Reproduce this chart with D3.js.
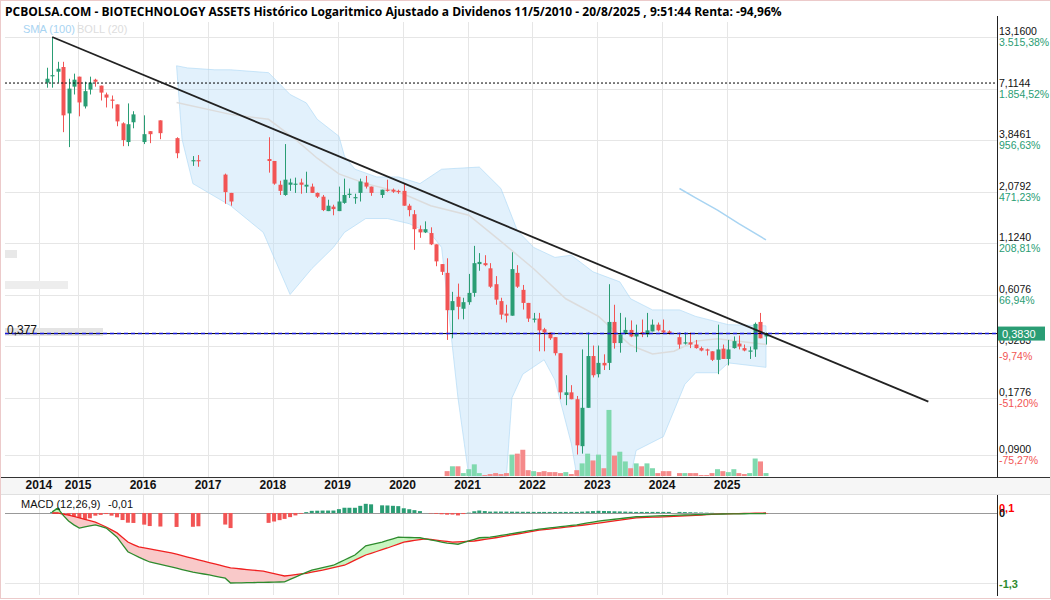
<!DOCTYPE html>
<html>
<head>
<meta charset="utf-8">
<script src="https://cdn.jsdelivr.net/npm/d3@7"></script>
<style>
body{margin:0;background:#fff;}
text{font-family:"Liberation Sans",Arial,sans-serif;}
</style>
</head>
<body>
<svg width="1051" height="600"></svg>
<script>
'use strict';

// monthly candles from Jul 2014, [open, high, low, close], null = no candle
var firstMonth = '2014-07';
var ohlc = [
 [7.64,9.12,7.19,8.0],[8.25,13.16,7.19,8.35],[8.70,9.79,7.64,9.01],[9.2,9.79,4.23,5.17],
 [5.29,8.0,3.54,7.11],[7.28,8.5,6.63,7.91],
 [8.2,8.2,5.11,6.03],[5.75,7.72,5.61,6.9],[7.03,8.2,6.63,7.64],[7.91,8.0,7.28,7.72],
 [7.37,7.37,6.17,6.78],[6.63,6.78,5.68,6.39],[6.24,6.55,5.61,6.17],[5.89,5.89,4.54,4.81],
 [4.70,4.76,3.58,3.85],[3.76,5.96,3.58,4.65],[4.76,5.43,4.43,5.23],null,
 [3.76,5.17,3.67,4.13],[4.28,4.28,3.71,4.13],null,[4.87,4.87,3.89,4.18],null,null,
 [3.94,3.98,3.10,3.29],null,null,[3.0,3.18,2.83,3.03],[3.03,3.22,2.80,3.0],null,
 null,null,null,[2.55,2.58,1.80,2.07],[2.05,2.05,1.76,1.85],null,
 null,null,null,null,null,[3.07,3.98,2.61,3.0],
 [3.0,3.0,2.26,2.29],[2.26,2.37,2.0,2.1],[2.0,3.67,1.98,2.4],[2.26,2.43,2.1,2.32],
 [2.26,2.46,2.05,2.29],[2.32,2.43,2.03,2.26],[2.21,2.64,2.05,2.26],[2.21,2.29,2.05,2.05],
 [2.05,2.06,1.93,1.96],[1.96,2.0,1.65,1.67],[1.65,1.89,1.65,1.76],[1.74,1.78,1.57,1.69],
 [1.65,2.21,1.65,1.85],[1.82,2.43,1.80,2.0],[2.0,2.16,1.93,2.03],[1.93,2.03,1.80,1.95],
 [2.05,2.43,1.85,2.35],[2.32,2.51,2.16,2.21],[2.21,2.21,1.98,2.05],null,
 [2.0,2.13,1.93,2.13],[2.13,2.40,2.08,2.1],[2.13,2.16,2.05,2.08],[2.1,2.13,2.03,2.08],
 [2.1,2.29,1.76,1.76],[1.76,1.80,1.55,1.67],[1.59,1.67,1.04,1.33],[1.33,1.39,1.20,1.28],
 [1.28,1.46,1.27,1.33],[1.27,1.36,1.10,1.11],[1.11,1.11,0.855,0.906],[0.877,0.877,0.77,0.80],
 [0.79,0.94,0.355,0.506],[0.506,0.63,0.362,0.564],[0.594,0.695,0.454,0.527],[0.515,0.587,0.454,0.557],
 [0.557,0.78,0.54,0.622],[0.622,1.09,0.594,0.887],[0.877,1.0,0.81,0.9],[0.887,0.975,0.855,0.866],
 [0.834,0.887,0.66,0.67],[0.69,0.76,0.54,0.574],[0.564,0.587,0.454,0.48],[0.486,0.54,0.437,0.474],
 [0.474,1.01,0.474,0.826],[0.79,0.866,0.66,0.67],[0.645,0.684,0.51,0.552],[0.552,0.552,0.44,0.458],
 [0.452,0.49,0.437,0.458],[0.458,0.49,0.31,0.398],[0.403,0.41,0.31,0.388],[0.388,0.388,0.355,0.362],
 [0.367,0.367,0.295,0.303],[0.303,0.303,0.175,0.19],[0.184,0.233,0.163,0.19],[0.19,0.207,0.175,0.175],
 [0.175,0.182,0.0905,0.101],[0.10,0.317,0.0915,0.158],[0.158,0.388,0.158,0.293],[0.293,0.332,0.227,0.233],
 [0.236,0.332,0.227,0.27],[0.27,0.299,0.248,0.262],[0.27,0.69,0.248,0.44],[0.44,0.54,0.32,0.342],
 [0.342,0.49,0.305,0.379],[0.386,0.464,0.379,0.40],[0.40,0.448,0.367,0.37],[0.37,0.426,0.307,0.383],
 [0.39,0.453,0.367,0.379],[0.379,0.49,0.367,0.398],[0.393,0.453,0.393,0.426],[0.426,0.437,0.393,0.398],
 [0.398,0.453,0.383,0.388],[0.393,0.398,0.379,0.383],null,
 [0.367,0.388,0.32,0.336],[0.34,0.388,0.336,0.345],[0.345,0.388,0.322,0.336],[0.336,0.355,0.32,0.322],
 [0.322,0.328,0.31,0.313],[0.317,0.32,0.295,0.313],[0.31,0.31,0.276,0.28],[0.28,0.426,0.236,0.317],
 [0.32,0.336,0.283,0.283],[0.283,0.355,0.262,0.317],[0.322,0.37,0.32,0.35],[0.34,0.374,0.317,0.328],
 [0.322,0.336,0.31,0.313],[0.31,0.328,0.283,0.313],[0.317,0.437,0.29,0.43],[0.44,0.49,0.362,0.362],
 [0.37,0.388,0.336,0.383]
];

// volume, starting Sep 2020 (null = no candle)
var volStart = '2020-09';
var volume = [5,10,10,3,7,12,3,1,2,3,2,3,22,23,27,6,5,4,5,4,4,3,4,2,6,13,23,16,22,8,68,21,25,15,8,13,10,13,8,3,5,5,
  null,3,3,3,3,1,1,3,7,5,4,7,3,2,3,18,15,3];

// bollinger (20) and sma (100)
var bollUpper = [['2016-07',9.34],['2016-09',9.1],['2017-02',8.9],['2017-05',8.9],['2017-12',8.6],['2018-04',6.63],
  ['2018-07',6.0],['2018-09',4.93],['2019-01',4.03],['2019-02',3.18],['2019-04',2.72],['2019-08',2.48],['2019-12',2.48],
  ['2020-04',2.29],['2020-08',2.72],['2021-03',2.79],['2021-07',2.16],['2021-10',1.31],['2022-01',1.07],['2022-05',0.95],
  ['2022-08',0.975],['2022-12',0.80],['2023-05',0.71],['2023-07',0.58],['2023-11',0.508],['2024-04',0.508],
  ['2024-07',0.47],['2025-01',0.426],['2025-08',0.42]];
var bollLower = [['2016-07',9.34],['2016-08',3.88],['2016-10',2.29],['2017-05',1.76],['2017-11',1.28],['2018-04',0.61],
  ['2018-08',0.83],['2018-12',1.07],['2019-02',1.28],['2019-06',1.51],['2019-10',1.51],['2020-02',1.42],['2020-06',1.26],
  ['2020-08',1.07],['2020-11',0.178],['2021-01',0.07],['2021-08',0.07],['2021-09',0.178],['2021-11',0.236],
  ['2022-03',0.28],['2022-05',0.22],['2022-08',0.103],['2022-09',0.07],['2023-07',0.07],['2023-08',0.095],
  ['2024-01',0.112],['2024-05',0.209],['2024-07',0.24],['2024-11',0.24],['2025-01',0.27],['2025-08',0.256]];
var bollMid = [['2016-07',6.03],['2017-05',5.23],['2017-12',4.93],['2018-05',3.88],['2018-09',3.10],['2019-01',2.57],
  ['2019-06',2.29],['2019-12',2.08],['2020-06',1.76],['2021-01',1.57],['2021-07',1.15],['2022-01',0.83],['2022-07',0.58],
  ['2023-01',0.47],['2023-07',0.333],['2023-11',0.30],['2024-03',0.31],['2024-07',0.35],['2024-11',0.36],['2025-08',0.336]];
var sma100 = [['2024-04',2.16],['2024-07',1.93],['2024-11',1.67],['2025-03',1.42],['2025-08',1.17]];

// trend line and levels
var trend = [['2014-08',13.16],['2028-02',0.17]];
var dottedLevel = 7.6;
var lastPrice = 0.383;

// macd (12,26,9)
var macdLine = [['2014-08',0.02],['2014-09',0.09],['2014-10',-0.04],['2014-11',-0.15],['2014-12',-0.22],['2015-01',-0.28],
  ['2015-04',-0.22],['2015-06',-0.28],['2015-08',-0.45],['2015-10',-0.72],['2015-12',-0.82],['2016-02',-0.91],
  ['2016-06',-1.0],['2016-10',-1.10],['2017-01',-1.15],['2017-04',-1.21],['2017-05',-1.30],['2018-03',-1.28],
  ['2018-05',-1.19],['2018-08',-1.06],['2018-12',-0.97],['2019-04',-0.78],['2019-06',-0.61],['2019-09',-0.54],
  ['2019-12',-0.45],['2020-04',-0.46],['2020-09',-0.56],['2020-11',-0.58],['2021-03',-0.46],['2021-05',-0.45],
  ['2022-02',-0.30],['2022-09',-0.22],['2023-01',-0.15],['2023-08',-0.07],['2024-04',-0.04],['2024-11',-0.02],['2025-08',-0.01]];
var signalLine = [['2014-08',0.0],['2014-09',0.0],['2014-11',-0.04],['2015-01',-0.09],['2015-04',-0.17],['2015-06',-0.26],
  ['2015-08',-0.37],['2015-10',-0.54],['2015-12',-0.63],['2016-06',-0.74],['2016-11',-0.87],['2017-03',-0.97],
  ['2017-05',-1.02],['2017-11',-1.08],['2018-03',-1.17],['2018-07',-1.12],['2018-10',-1.06],['2019-02',-0.97],
  ['2019-06',-0.78],['2019-10',-0.65],['2020-01',-0.54],['2020-05',-0.48],['2020-10',-0.54],['2021-02',-0.52],
  ['2021-06',-0.46],['2022-02',-0.32],['2022-09',-0.24],['2023-01',-0.19],['2023-08',-0.09],['2024-04',-0.06],
  ['2024-11',-0.02],['2025-08',0.0]];

// axis labels
var priceTicks = [13.16,7.1144,3.8461,2.0792,1.124,0.6076,0.3283,0.1776,0.09];
var priceLabels = ['13,1600','7,1144','3,8461','2,0792','1,1240','0,6076','0,3283','0,1776','0,0900'];
var pctLabels = ['3.515,38%','1.854,52%','956,63%','471,23%','208,81%','66,94%','-9,74%','-51,20%','-75,27%'];
var yearTicks = ['2014-06-01','2015-01-08','2016-01-08','2017-01-08','2018-01-08','2019-01-08','2020-01-08',
  '2021-01-08','2022-01-08','2023-01-08','2024-01-08','2025-01-08'];
var yearLabels = ['2014','2015','2016','2017','2018','2019','2020','2021','2022','2023','2024','2025'];

var GREEN = '#2a9d74', RED = '#f25454';
var parse = d3.timeParse('%Y-%m');
function mid(s){ var d = parse(s); d.setDate(15); return d; }
function addMonths(s, n){ var d = parse(s); d.setMonth(d.getMonth()+n); d.setDate(15); return d; }

var candles = [];
ohlc.forEach(function(r, i){
  if(r) candles.push({date:addMonths(firstMonth,i), o:r[0], h:r[1], l:r[2], c:r[3]});
});
var vols = [];
volume.forEach(function(v, i){
  if(v === null) return;
  var d = addMonths(volStart, i);
  var cd = candles.find(function(c){ return +c.date === +d; });
  vols.push({date:d, v:v, up: cd ? cd.c >= cd.o : true});
});

var svg = d3.select('svg');
var L = 5, R = 997, TOP = 22, BOT = 477;

var x = d3.scaleTime().domain([mid('2014-07'), mid('2025-08')]).range([46.7, 766]);
var y = d3.scaleLog().domain([13.16, 0.09]).range([37, 455]);
var yv = d3.scaleLinear().domain([0, 70]).range([476, 408]);
var ym = d3.scaleLinear().domain([-1.3, 0.1]).range([583, 507.6]);

// frame + title
svg.append('rect').attr('x',0.5).attr('y',0.5).attr('width',1050).attr('height',598)
  .attr('fill','none').attr('stroke','#eccaca');
svg.append('text').attr('x',5).attr('y',16).attr('font-size',12).attr('font-weight','bold')
  .style('font-family','"Open Sans",sans-serif')
  .text('PCBOLSA.COM - BIOTECHNOLOGY ASSETS Histórico Logaritmico Ajustado a Dividenos 11/5/2010 - 20/8/2025 , 9:51:44 Renta: -94,96%');

var defs = svg.append('defs');
defs.append('clipPath').attr('id','main').append('rect').attr('x',L).attr('y',TOP).attr('width',R-L).attr('height',BOT-TOP);
defs.append('clipPath').attr('id','mpanel').append('rect').attr('x',L).attr('y',495).attr('width',R-L).attr('height',100);

// grid
var g = svg.append('g');
g.selectAll('.hg').data(priceTicks).enter().append('line')
  .attr('x1',L).attr('x2',R).attr('y1',function(d){return Math.round(y(d))+0.5;}).attr('y2',function(d){return Math.round(y(d))+0.5;})
  .attr('stroke','#e6e6e6');
g.selectAll('.vg').data(yearTicks).enter().append('line')
  .attr('x1',function(d){return Math.round(x(new Date(d)))+0.5;}).attr('x2',function(d){return Math.round(x(new Date(d)))+0.5;})
  .attr('y1',TOP).attr('y2',BOT).attr('stroke','#e6e6e6');
g.selectAll('.vg2').data(yearTicks).enter().append('line')
  .attr('x1',function(d){return Math.round(x(new Date(d)))+0.5;}).attr('x2',function(d){return Math.round(x(new Date(d)))+0.5;})
  .attr('y1',495).attr('y2',595).attr('stroke','#e6e6e6');
[0,-1.3].forEach(function(v){
  g.append('line').attr('x1',L).attr('x2',R).attr('y1',Math.round(ym(v))+0.5).attr('y2',Math.round(ym(v))+0.5)
    .attr('stroke', v === 0 ? '#999' : '#e6e6e6');
});

// left overlay labels
svg.append('rect').attr('x',L).attr('y',250).attr('width',12).attr('height',8).attr('fill','#e8e8e8');
svg.append('rect').attr('x',L).attr('y',281).attr('width',63).attr('height',8).attr('fill','#ededed');
svg.append('rect').attr('x',L).attr('y',328).attr('width',98).attr('height',8).attr('fill','#e4e4e4');

var main = svg.append('g').attr('clip-path','url(#main)');

// bollinger band
var bandPts = bollUpper.map(function(d){return [x(mid(d[0])), y(d[1])];})
  .concat(bollLower.slice().reverse().map(function(d){return [x(mid(d[0])), y(d[1])];}));
main.append('path').attr('d', d3.line()(bandPts) + 'Z')
  .attr('fill','rgba(190,224,248,0.45)').attr('stroke','rgba(170,215,245,0.6)');
var pline = d3.line().x(function(d){return x(mid(d[0]));}).y(function(d){return y(d[1]);});
main.append('path').attr('d', pline(bollMid)).attr('fill','none').attr('stroke','#dcdcdc').attr('stroke-width',1.5);
main.append('path').attr('d', pline(sma100)).attr('fill','none').attr('stroke','#a8d4f2').attr('stroke-width',1.5);

// volume
main.selectAll('.vol').data(vols).enter().append('rect')
  .attr('x',function(d){return x(d.date)-2.5;}).attr('width',5)
  .attr('y',function(d){return yv(d.v);}).attr('height',function(d){return 476-yv(d.v);})
  .attr('fill',function(d){return d.up ? '#7fd9ae' : '#f58a8a';});

// candles
var cg = main.selectAll('.candle').data(candles).enter().append('g');
cg.append('line')
  .attr('x1',function(d){return Math.round(x(d.date))+0.5;}).attr('x2',function(d){return Math.round(x(d.date))+0.5;})
  .attr('y1',function(d){return y(d.h);}).attr('y2',function(d){return y(d.l);})
  .attr('stroke',function(d){return d.c >= d.o ? GREEN : RED;});
cg.append('rect')
  .attr('x',function(d){return Math.round(x(d.date))-1.5;}).attr('width',4)
  .attr('y',function(d){return Math.min(y(d.o),y(d.c));})
  .attr('height',function(d){return Math.max(1.2, Math.abs(y(d.o)-y(d.c)));})
  .attr('fill',function(d){return d.c >= d.o ? GREEN : RED;});

// levels and trend
main.append('line').attr('x1',L).attr('x2',R).attr('y1',y(dottedLevel)).attr('y2',y(dottedLevel))
  .attr('stroke','#000').attr('stroke-dasharray','2,2');
main.append('line').attr('x1',L).attr('x2',R).attr('y1',y(lastPrice)).attr('y2',y(lastPrice)).attr('stroke','#000');
main.append('line').attr('x1',L).attr('x2',R).attr('y1',y(lastPrice)).attr('y2',y(lastPrice))
  .attr('stroke','#1a1adb').attr('stroke-width',1.5).attr('stroke-dasharray','4,3');
main.append('path').attr('d', pline(trend)).attr('stroke','#222').attr('stroke-width',1.8).attr('fill','none');

svg.append('text').attr('x',7).attr('y',334).attr('font-size',12).attr('fill','#111').text('0,377');

// legend
svg.append('text').attr('x',23).attr('y',33).attr('font-size',11).attr('fill','#a8d4f2').text('SMA (100)');
svg.append('text').attr('x',77).attr('y',33).attr('font-size',11).attr('fill','#dddddd').text('BOLL (20)');

// right axis
svg.append('line').attr('x1',R+0.5).attr('x2',R+0.5).attr('y1',16).attr('y2',BOT).attr('stroke','#222');
svg.append('line').attr('x1',R+0.5).attr('x2',R+0.5).attr('y1',495).attr('y2',596).attr('stroke','#222');
var ax = svg.append('g');
priceTicks.forEach(function(v, i){
  var yy = y(v);
  ax.append('text').attr('x',999).attr('y',yy-2).attr('font-size',10.5).attr('fill','#111').text(priceLabels[i]);
  if(i === 6) return; // hidden under the last price box
  ax.append('text').attr('x',999).attr('y',yy+9).attr('font-size',10.5)
    .attr('fill', pctLabels[i].charAt(0) === '-' ? '#f25454' : '#2a9d74').text(pctLabels[i]);
});
ax.append('text').attr('x',999).attr('y',y(0.3283)+14).attr('font-size',10.5).attr('fill','#f25454').text(pctLabels[6]);
svg.append('rect').attr('x',998).attr('y',y(lastPrice)-7).attr('width',47).attr('height',14).attr('fill',GREEN);
svg.append('text').attr('x',1002).attr('y',y(lastPrice)+4).attr('font-size',11).attr('fill','#fff').text('0,3830');

// x axis band
svg.append('rect').attr('x',1).attr('y',BOT).attr('width',1049).attr('height',17).attr('fill','#f6f6f6');
svg.append('line').attr('x1',1).attr('x2',1050).attr('y1',BOT+0.5).attr('y2',BOT+0.5).attr('stroke','#333');
svg.append('line').attr('x1',1).attr('x2',1050).attr('y1',494.5).attr('y2',494.5).attr('stroke','#e0e0e0');
yearTicks.forEach(function(d, i){
  svg.append('text').attr('x',x(new Date(d))).attr('y',489).attr('text-anchor','middle')
    .attr('font-size',12).attr('font-weight','bold').attr('fill','#111').text(yearLabels[i]);
});

// macd panel
var mp = svg.append('g').attr('clip-path','url(#mpanel)');
var mScale = d3.scaleTime().domain(macdLine.map(function(d){return mid(d[0]);})).range(macdLine.map(function(d){return d[1];})).clamp(true);
var sScale = d3.scaleTime().domain(signalLine.map(function(d){return mid(d[0]);})).range(signalLine.map(function(d){return d[1];})).clamp(true);
var grid = d3.timeMonth.range(parse('2014-08'), parse('2025-09')).map(function(d){ var e = new Date(d); e.setDate(15); return e; });

// histogram
mp.selectAll('.hist').data(candles.filter(function(c){return c.date >= mid('2014-08');})).enter().append('rect')
  .attr('x',function(d){return x(d.date)-2;}).attr('width',4)
  .attr('y',function(d){var h = mScale(d.date)-sScale(d.date); return Math.min(ym(h), ym(0));})
  .attr('height',function(d){var h = mScale(d.date)-sScale(d.date); return Math.abs(ym(h)-ym(0));})
  .attr('fill',function(d){return mScale(d.date) >= sScale(d.date) ? GREEN : RED;});

// fill between lines
var between = d3.area().x(function(d){return x(d);}).y0(function(d){return ym(sScale(d));}).y1(function(d){return ym(mScale(d));});
var sigArea = d3.area().x(function(d){return x(d);}).y0(495).y1(function(d){return ym(sScale(d));});
var sigArea2 = d3.area().x(function(d){return x(d);}).y0(600).y1(function(d){return ym(sScale(d));});
defs.append('clipPath').attr('id','above').append('path').attr('d', sigArea(grid));
defs.append('clipPath').attr('id','below').append('path').attr('d', sigArea2(grid));
mp.append('path').attr('d', between(grid)).attr('fill','#c8f5c0').attr('clip-path','url(#above)');
mp.append('path').attr('d', between(grid)).attr('fill','#f9c9c9').attr('clip-path','url(#below)');
var mline = d3.line().x(function(d){return x(d);});
mp.append('path').attr('d', mline.y(function(d){return ym(sScale(d));})(grid)).attr('fill','none').attr('stroke','#f02020').attr('stroke-width',1.3);
mp.append('path').attr('d', mline.y(function(d){return ym(mScale(d));})(grid)).attr('fill','none').attr('stroke','#2e8b2e').attr('stroke-width',1.3);

svg.append('text').attr('x',21).attr('y',508).attr('font-size',11).attr('fill','#111').text('MACD (12,26,9)');
svg.append('text').attr('x',108).attr('y',508).attr('font-size',11).attr('fill','#111').text('-0,01');
svg.append('text').attr('x',999).attr('y',512).attr('font-size',11).attr('font-weight','bold').attr('fill','#f00').text('0,1');
svg.append('text').attr('x',999).attr('y',517).attr('font-size',11).attr('font-weight','bold').attr('fill','#111').text('0');
svg.append('text').attr('x',999).attr('y',588).attr('font-size',11).attr('font-weight','bold').attr('fill','#2e8b2e').text('-1,3');
</script>
</body>
</html>
